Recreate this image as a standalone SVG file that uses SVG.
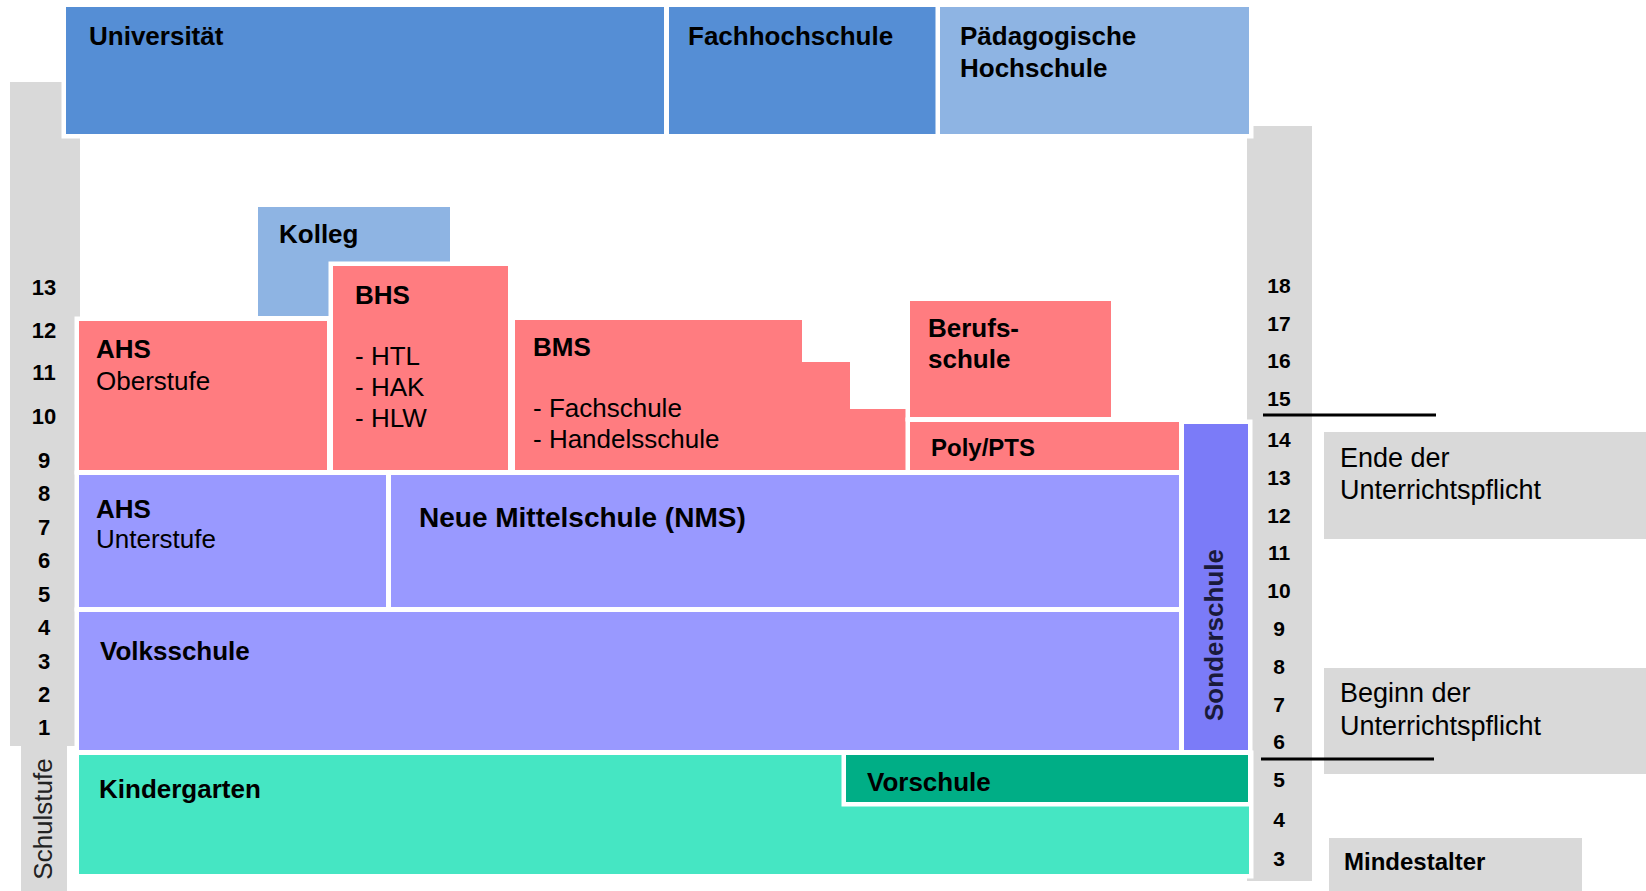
<svg xmlns="http://www.w3.org/2000/svg" width="1646" height="891" viewBox="0 0 1646 891">
<style>
.box{stroke:#fff;stroke-width:9;paint-order:stroke}
.gray{fill:#d9d9d9}
.b{font-family:"Liberation Sans",Arial,sans-serif;font-weight:bold;font-size:26px;fill:#000}
.r{font-family:"Liberation Sans",Arial,sans-serif;font-size:26px;fill:#000}
.numL{font-family:"Liberation Sans",Arial,sans-serif;font-weight:bold;font-size:22px;fill:#000;text-anchor:middle}
.numR{font-family:"Liberation Sans",Arial,sans-serif;font-weight:bold;font-size:21px;fill:#000;text-anchor:middle}
.note{font-family:"Liberation Sans",Arial,sans-serif;font-size:27px;fill:#000}
.blue{fill:#558ed5}
.lblue{fill:#8eb4e3}
.red{fill:#ff7c80}
.lav{fill:#9999ff}
.son{fill:#7b7bf8}
.kg{fill:#45e6c3}
.vs{fill:#00ae86}
</style>
<rect width="1646" height="891" fill="#fff"/>
<g id="scale-left">
<rect class="gray" x="10" y="82" width="70" height="664"/>
<rect class="gray" x="21" y="746" width="46" height="145"/>
<text class="r" transform="translate(52,819) rotate(-90)" text-anchor="middle" style="fill:#222">Schulstufe</text>
</g>
<g id="scale-right">
<rect class="gray" x="1247" y="126" width="65" height="755"/>
</g>
<g id="universitaet"><rect class="box blue" x="66" y="7" width="598" height="127"/><text class="b" x="89" y="45">Universität</text></g>
<g id="fachhochschule"><rect class="box blue" x="669" y="7" width="267" height="127"/><text class="b" x="688" y="45">Fachhochschule</text></g>
<g id="paedagogische-hochschule"><rect class="box lblue" x="940" y="7" width="309" height="127"/><text class="b" x="960" y="45">Pädagogische</text><text class="b" x="960" y="77">Hochschule</text></g>
<g id="kolleg"><rect class="box lblue" x="258" y="207" width="192" height="109"/><text class="b" x="279" y="243">Kolleg</text></g>
<g id="ahs-oberstufe"><rect class="box red" x="79" y="321" width="248" height="149"/><text class="b" x="96" y="358">AHS</text><text class="r" x="96" y="390">Oberstufe</text></g>
<g id="bhs"><rect class="box red" x="333" y="266" width="175" height="204"/><text class="b" x="355" y="304">BHS</text><text class="r" x="355" y="365">- HTL</text><text class="r" x="355" y="396">- HAK</text><text class="r" x="355" y="427">- HLW</text></g>
<g id="bms"><polygon class="box red" points="515,320 802,320 802,362 850,362 850,409 906,409 906,470 515,470"/><text class="b" x="533" y="356">BMS</text><text class="r" x="533" y="417">- Fachschule</text><text class="r" x="533" y="448">- Handelsschule</text></g>
<g id="berufsschule"><rect class="box red" x="910" y="301" width="201" height="116"/><text class="b" x="928" y="337">Berufs-</text><text class="b" x="928" y="368">schule</text></g>
<g id="poly-pts"><rect class="box red" x="910" y="422" width="269" height="48"/><text class="b" x="931" y="456" style="font-size:24px">Poly/PTS</text></g>
<g id="ahs-unterstufe"><rect class="box lav" x="79" y="475" width="307" height="132"/><text class="b" x="96" y="518">AHS</text><text class="r" x="96" y="548">Unterstufe</text></g>
<g id="nms"><rect class="box lav" x="391" y="475" width="788" height="132"/><text class="b" x="419" y="527" style="font-size:28px">Neue Mittelschule (NMS)</text></g>
<g id="volksschule"><rect class="box lav" x="79" y="612" width="1100" height="138"/><text class="b" x="100" y="660">Volksschule</text></g>
<g id="sonderschule"><rect class="box son" x="1184" y="424" width="64" height="326"/><text class="b" transform="translate(1223,635) rotate(-90)" text-anchor="middle" style="fill:#1a1a3a">Sonderschule</text></g>
<g id="kindergarten"><rect class="box kg" x="79" y="755" width="1170" height="119"/><text class="b" x="99" y="798">Kindergarten</text></g>
<g id="vorschule"><rect class="box vs" x="846" y="755" width="402" height="47"/><text class="b" x="867" y="791">Vorschule</text></g>
<g id="schulstufen">
<text class="numL" x="44" y="295">13</text>
<text class="numL" x="44" y="338">12</text>
<text class="numL" x="44" y="380">11</text>
<text class="numL" x="44" y="424">10</text>
<text class="numL" x="44" y="468">9</text>
<text class="numL" x="44" y="501">8</text>
<text class="numL" x="44" y="535">7</text>
<text class="numL" x="44" y="568">6</text>
<text class="numL" x="44" y="602">5</text>
<text class="numL" x="44" y="635">4</text>
<text class="numL" x="44" y="669">3</text>
<text class="numL" x="44" y="702">2</text>
<text class="numL" x="44" y="735">1</text>
</g>
<g id="alter">
<text class="numR" x="1279" y="293">18</text>
<text class="numR" x="1279" y="331">17</text>
<text class="numR" x="1279" y="368">16</text>
<text class="numR" x="1279" y="406">15</text>
<text class="numR" x="1279" y="447">14</text>
<text class="numR" x="1279" y="485">13</text>
<text class="numR" x="1279" y="523">12</text>
<text class="numR" x="1279" y="560">11</text>
<text class="numR" x="1279" y="598">10</text>
<text class="numR" x="1279" y="636">9</text>
<text class="numR" x="1279" y="674">8</text>
<text class="numR" x="1279" y="712">7</text>
<text class="numR" x="1279" y="749">6</text>
<text class="numR" x="1279" y="787">5</text>
<text class="numR" x="1279" y="827">4</text>
<text class="numR" x="1279" y="866">3</text>
</g>
<g id="ende-unterrichtspflicht"><rect class="gray" x="1324" y="432" width="322" height="107"/><text class="note" x="1340" y="467">Ende der</text><text class="note" x="1340" y="499">Unterrichtspflicht</text></g>
<g id="beginn-unterrichtspflicht"><rect class="gray" x="1324" y="668" width="322" height="106"/><text class="note" x="1340" y="702">Beginn der</text><text class="note" x="1340" y="735">Unterrichtspflicht</text></g>
<g id="mindestalter"><rect class="gray" x="1329" y="838" width="253" height="53"/><text class="b" x="1344" y="870" style="font-size:24px">Mindestalter</text></g>
<g id="connectors" stroke="#000" stroke-width="3">
<line x1="1263" y1="415" x2="1436" y2="415"/>
<line x1="1261" y1="759" x2="1434" y2="759"/>
</g>
</svg>
